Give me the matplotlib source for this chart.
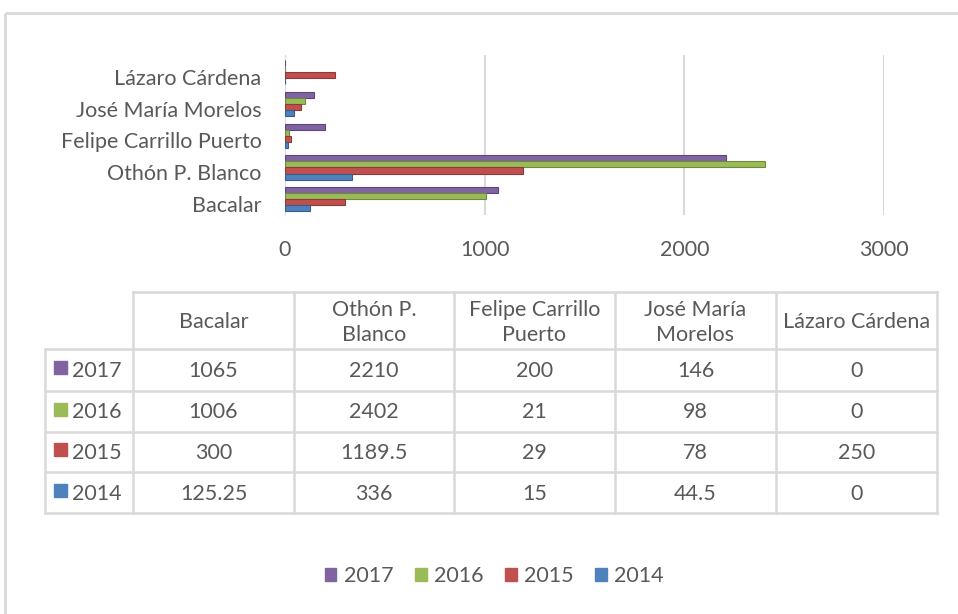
import numpy as np
import matplotlib.pyplot as plt
from matplotlib.patches import Rectangle

plt.rcParams['font.family'] = ['Lato', 'DejaVu Sans']

municipios = ['Bacalar', 'Othón P. Blanco', 'Felipe Carrillo Puerto',
              'José María Morelos', 'Lázaro Cárdena']
headers = ['Bacalar', 'Othón P.\nBlanco', 'Felipe Carrillo\nPuerto',
           'José María\nMorelos', 'Lázaro Cárdena']
years = ['2017', '2016', '2015', '2014']
v2017 = [1065, 2210, 200, 146, 0]
v2016 = [1006, 2402, 21, 98, 0]
v2015 = [300, 1189.5, 29, 78, 250]
v2014 = [125.25, 336, 15, 44.5, 0]
cell_text = [['1065', '2210', '200', '146', '0'],
             ['1006', '2402', '21', '98', '0'],
             ['300', '1189.5', '29', '78', '250'],
             ['125.25', '336', '15', '44.5', '0']]

series = [v2017, v2016, v2015, v2014]
colors = ['#8064A2', '#9BBB59', '#C0504D', '#4F81BD']
edges = ['#5c4778', '#6f8a3c', '#8f3a38', '#375d8c']
txt = '#595959'
grid = '#d9d9d9'
fs = 15.5

W, H = 958, 614
fig = plt.figure(figsize=(W / 100, H / 100), dpi=100)

# full-figure overlay in pixel coords (frame, table)
ov = fig.add_axes([0, 0, 1, 1])
ov.set_xlim(0, W)
ov.set_ylim(H, 0)
ov.axis('off')
ov.add_patch(Rectangle((5, 13), 1000, 700, fill=False, ec='#d9d9d9', lw=2))

# bar chart
x0, x1 = 285, 884
y0, y1 = 55, 215
ax = fig.add_axes([x0 / W, 1 - y1 / H, (x1 - x0) / W, (y1 - y0) / H])
ax.set_xlim(0, 3000)
sp = 31.75
ax.set_ylim(-11 / sp - 0.15, 4 + 22 / sp - 0.15)
y = np.arange(len(municipios))
h = 0.19
offs = [1.5 * h, 0.5 * h, -0.5 * h, -1.5 * h]
for vals, c, e, o in zip(series, colors, edges, offs):
    ax.barh(y + o, vals, height=h, color=c, edgecolor=e, linewidth=0.8, zorder=3)
for gx in [0, 1000, 2000, 3000]:
    ax.axvline(gx, color=grid, lw=1.5, zorder=1)
ax.set_yticks(y - 0.15)
ax.set_yticklabels(municipios, fontsize=fs, color=txt)
ax.set_xticks([0, 1000, 2000, 3000])
ax.set_xticklabels(['0', '1000', '2000', '3000'], fontsize=fs, color=txt)
ax.tick_params(length=0, axis='y', pad=17)
ax.tick_params(length=0, axis='x', pad=18)
for s in ax.spines.values():
    s.set_visible(False)
ax.set_facecolor('none')

# data table
cx = [45, 133, 294, 454, 615, 776, 937]
ry = [292, 349, 391, 432, 472, 513]
lw = 1.8
ov.plot([cx[1], cx[-1]], [ry[0], ry[0]], color=grid, lw=lw)
for yy in ry[1:]:
    ov.plot([cx[0], cx[-1]], [yy, yy], color=grid, lw=lw)
ov.plot([cx[0], cx[0]], [ry[1], ry[-1]], color=grid, lw=lw)
for xx in cx[1:]:
    ov.plot([xx, xx], [ry[0], ry[-1]], color=grid, lw=lw)
for j, hd in enumerate(headers):
    ov.text((cx[j + 1] + cx[j + 2]) / 2, (ry[0] + ry[1]) / 2 + 2, hd,
            ha='center', va='center', fontsize=fs, color=txt, linespacing=1.3)
for i, yr in enumerate(years):
    yc = (ry[i + 1] + ry[i + 2]) / 2
    ov.add_patch(Rectangle((54, yc - 9), 13, 13, color=colors[i]))
    ov.text(72, yc + 1, yr, ha='left', va='center', fontsize=fs, color=txt)
    for j, t in enumerate(cell_text[i]):
        ov.text((cx[j + 1] + cx[j + 2]) / 2, yc + 1, t, ha='center', va='center',
                fontsize=fs, color=txt)

# legend
handles = [Rectangle((0, 0), 1, 1, color=c) for c in colors]
fig.legend(handles, years, loc='center', bbox_to_anchor=(494 / W, 1 - 576 / H),
           ncol=4, frameon=False, fontsize=fs, labelcolor=txt,
           handlelength=0.55, handleheight=0.55, handletextpad=0.33, columnspacing=1.0)

fig.savefig('out.png', dpi=100)
